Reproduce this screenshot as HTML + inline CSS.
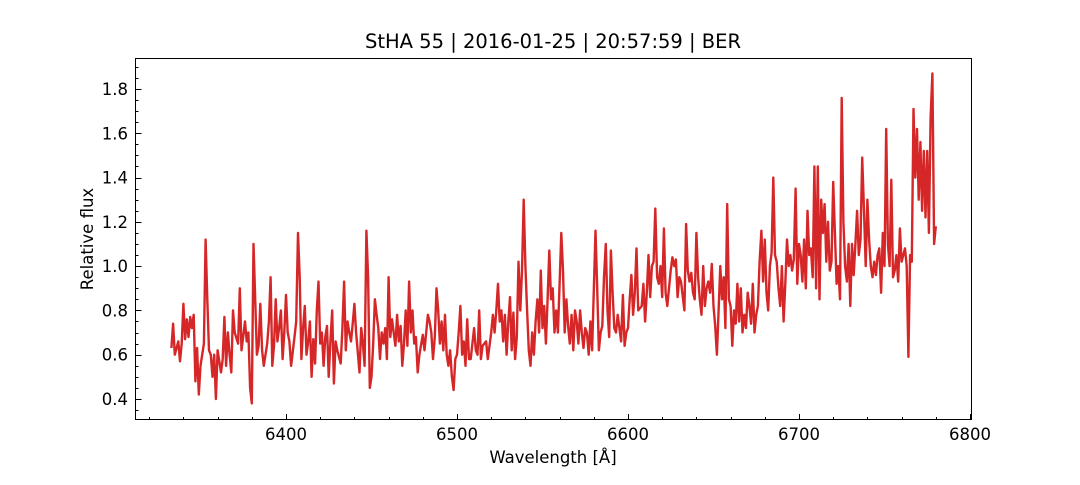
<!DOCTYPE html>
<html><head><meta charset="utf-8"><style>
body{margin:0;background:#fff;}
svg text{font-family:"DejaVu Sans","Liberation Sans",sans-serif;fill:#000;}
</style></head><body>
<svg id="chart" width="1080" height="480" xmlns="http://www.w3.org/2000/svg">
<text x="553" y="48" text-anchor="middle" font-size="19.5">StHA 55 | 2016-01-25 | 20:57:59 | BER</text>
<text x="553" y="463" text-anchor="middle" font-size="16.5">Wavelength [Å]</text>
<text transform="translate(93,239) rotate(-90)" text-anchor="middle" font-size="16.5">Relative flux</text>
<g id="ticks"></g>
<clipPath id="clip"><rect x="135" y="58" width="836" height="362"/></clipPath>
<path id="line" fill="none" stroke="#d62728" stroke-width="2.4" stroke-linejoin="round" clip-path="url(#clip)"/>
<rect x="135.5" y="58.5" width="836" height="361" fill="none" stroke="#000" stroke-width="1"/>
</svg>
<script>
const xTicks=[6400,6500,6600,6700,6800];
const yTicks=[0.4,0.6,0.8,1.0,1.2,1.4,1.6,1.8];
const wl=[6333,6334,6335,6337,6338,6339,6340,6341,6342,6343,6344,6345,6346,6347,6348,6349,6350,6352,6353,6354,6355,6356,6357,6358,6359,6360,6362,6363,6364,6365,6366,6367,6368,6369,6370,6372,6373,6374,6376,6377,6378,6379,6380,6381,6382,6383,6384,6385,6386,6387,6389,6390,6391,6392,6393,6394,6395,6396,6397,6398,6399,6400,6401,6402,6403,6405,6406,6407,6408,6409,6410,6411,6412,6413,6414,6415,6416,6417,6418,6419,6420,6421,6422,6423,6424,6425,6426,6427,6428,6429,6430,6432,6433,6434,6435,6436,6437,6438,6439,6440,6441,6443,6444,6445,6446,6447,6448,6449,6450,6451,6452,6453,6454,6455,6456,6457,6458,6459,6460,6461,6462,6464,6465,6466,6467,6468,6469,6470,6471,6472,6473,6474,6475,6476,6477,6478,6480,6481,6483,6484,6485,6486,6487,6488,6489,6490,6491,6492,6493,6494,6495,6496,6497,6498,6499,6500,6501,6502,6503,6504,6505,6506,6507,6508,6510,6511,6512,6513,6514,6515,6517,6518,6520,6521,6522,6523,6524,6525,6526,6527,6528,6529,6530,6531,6532,6533,6534,6535,6536,6537,6538,6539,6540,6541,6542,6543,6544,6545,6546,6547,6548,6549,6550,6551,6552,6553,6554,6555,6556,6557,6558,6559,6560,6561,6562,6563,6564,6565,6566,6567,6568,6569,6570,6571,6572,6573,6574,6575,6576,6577,6578,6579,6581,6582,6583,6584,6585,6586,6587,6588,6589,6590,6591,6592,6593,6594,6596,6597,6598,6599,6600,6601,6602,6603,6604,6605,6606,6608,6609,6610,6611,6612,6613,6614,6615,6616,6617,6618,6619,6620,6621,6622,6623,6624,6625,6626,6627,6628,6629,6630,6631,6633,6634,6635,6636,6637,6638,6639,6640,6641,6642,6643,6644,6645,6646,6647,6648,6649,6650,6651,6652,6653,6654,6655,6656,6657,6658,6659,6660,6661,6662,6663,6664,6665,6666,6667,6668,6669,6670,6671,6672,6673,6674,6675,6676,6677,6678,6679,6680,6681,6682,6683,6684,6685,6686,6687,6688,6689,6690,6691,6692,6693,6694,6695,6696,6697,6698,6699,6700,6701,6702,6703,6704,6705,6706,6707,6708,6709,6710,6711,6712,6713,6714,6715,6716,6717,6718,6719,6720,6721,6722,6723,6724,6725,6726,6727,6728,6729,6730,6731,6732,6733,6734,6735,6736,6737,6738,6739,6740,6741,6742,6743,6744,6745,6746,6747,6748,6749,6750,6751,6752,6753,6754,6755,6756,6757,6758,6759,6760,6761,6762,6763,6764,6765,6766,6767,6768,6769,6770,6771,6772,6773,6774,6775,6776,6777,6778,6779,6780];
const flux=[0.63,0.74,0.60,0.66,0.57,0.65,0.83,0.67,0.76,0.68,0.77,0.72,0.78,0.48,0.63,0.42,0.55,0.65,1.12,0.85,0.62,0.60,0.50,0.60,0.40,0.62,0.52,0.58,0.77,0.55,0.70,0.60,0.52,0.80,0.70,0.65,0.90,0.62,0.75,0.66,0.70,0.45,0.38,1.10,0.85,0.60,0.64,0.83,0.62,0.55,0.65,0.75,0.95,0.55,0.64,0.85,0.66,0.72,0.80,0.58,0.70,0.87,0.70,0.66,0.55,0.68,0.75,1.15,0.95,0.58,0.72,0.82,0.60,0.66,0.75,0.50,0.67,0.56,0.80,0.93,0.65,0.70,0.55,0.68,0.73,0.50,0.66,0.80,0.47,0.66,0.62,0.56,0.72,0.93,0.62,0.75,0.70,0.66,0.74,0.83,0.70,0.52,0.72,0.65,0.55,1.16,0.95,0.45,0.50,0.65,0.85,0.78,0.72,0.58,0.70,0.65,0.72,0.58,0.95,0.68,0.76,0.64,0.78,0.66,0.73,0.55,0.65,0.80,0.64,0.93,0.70,0.80,0.65,0.68,0.52,0.60,0.69,0.62,0.78,0.75,0.70,0.58,0.68,0.90,0.80,0.65,0.75,0.62,0.78,0.60,0.55,0.62,0.50,0.44,0.58,0.60,0.70,0.82,0.60,0.66,0.55,0.76,0.58,0.58,0.72,0.62,0.60,0.80,0.58,0.64,0.66,0.58,0.70,0.78,0.70,0.80,0.92,0.75,0.80,0.66,0.78,0.60,0.75,0.86,0.62,0.79,0.58,0.68,1.02,0.80,0.98,1.30,1.00,0.80,0.62,0.55,0.70,0.60,0.75,0.85,0.70,0.98,0.72,0.82,0.65,0.85,1.07,0.85,0.90,0.70,0.80,0.70,0.92,1.15,0.98,0.70,0.85,0.73,0.65,0.78,0.62,0.80,0.75,0.65,0.80,0.70,0.63,0.72,0.70,0.60,0.75,0.62,1.16,0.90,0.62,0.70,0.73,0.95,1.10,0.80,0.68,1.07,0.88,0.72,0.70,0.78,0.66,0.87,0.64,0.70,0.72,0.85,0.96,0.78,0.88,1.08,0.80,0.82,0.92,0.75,0.88,1.05,0.86,1.00,1.02,1.26,0.95,0.92,1.00,0.86,1.17,0.88,0.82,0.90,0.98,1.04,1.00,1.03,0.86,0.95,0.93,0.80,1.19,0.98,0.93,0.97,0.88,0.85,1.15,0.95,0.85,0.78,1.00,0.82,0.90,0.93,0.88,1.01,0.82,0.73,0.60,0.80,1.00,0.85,0.95,0.72,1.28,0.85,0.82,0.64,0.80,0.74,0.92,0.75,0.90,0.70,0.78,0.72,0.88,0.82,0.74,0.92,0.70,0.78,0.82,1.02,1.16,0.93,1.12,0.88,0.80,1.00,1.06,1.40,1.05,1.02,0.90,0.82,1.00,0.75,0.92,1.12,1.00,1.05,0.98,1.03,1.35,0.92,1.10,1.05,0.93,1.12,0.90,1.25,1.05,1.08,0.95,1.45,0.90,1.45,0.85,1.30,1.15,1.28,1.02,1.20,0.98,1.02,1.38,1.15,0.92,1.00,0.85,1.76,1.20,1.00,0.93,1.10,0.82,1.10,0.96,1.10,1.25,1.05,1.12,1.49,1.25,1.00,1.30,1.12,1.00,0.95,1.02,0.96,1.05,1.08,0.88,1.15,1.00,1.62,1.10,1.00,1.39,0.95,0.98,1.05,0.93,1.17,1.02,1.05,1.08,1.00,0.59,1.05,1.02,1.71,1.40,1.62,1.30,1.56,1.25,1.52,1.22,1.52,1.15,1.67,1.87,1.10,1.18];
const X0=6311.7,X1=6800.6,PL=135,PR=971;
const Y0=0.305,Y1=1.94,PB=420,PT=58;
function sx(v){return PL+(v-X0)/(X1-X0)*(PR-PL);}
function sy(v){return PB-(v-Y0)/(Y1-Y0)*(PB-PT);}
const NS='http://www.w3.org/2000/svg';
const g=document.getElementById('ticks');
function ln(x1,y1,x2,y2){const l=document.createElementNS(NS,'line');l.setAttribute('x1',x1);l.setAttribute('y1',y1);l.setAttribute('x2',x2);l.setAttribute('y2',y2);l.setAttribute('stroke','#000');l.setAttribute('stroke-width','1');g.appendChild(l);return l;}
for(let v=6320;v<=6800;v+=20){const x=Math.round(sx(v))+0.5;const major=v%100===0;const l=ln(x,PB,x,PB-(major?6:3));

}
for(let i=7;i<=38;i++){const v=i*0.05;const y=Math.round(sy(v))+0.5;const major=i%4===0;const l=ln(PL+0.5,y,PL+0.5+(major?6:3),y);

}
xTicks.forEach(v=>{const t=document.createElementNS(NS,'text');t.setAttribute('x',sx(v));t.setAttribute('y',440);t.setAttribute('text-anchor','middle');t.setAttribute('font-size','16.5');t.textContent=v;


g.appendChild(t);});
yTicks.forEach(v=>{const t=document.createElementNS(NS,'text');t.setAttribute('x',128);t.setAttribute('y',sy(v)+6);t.setAttribute('text-anchor','end');t.setAttribute('font-size','16.5');t.textContent=v.toFixed(1);


g.appendChild(t);});
let d='';wl.forEach((w,i)=>{d+=(i?'L':'M')+sx(w).toFixed(1)+','+sy(flux[i]).toFixed(1);});
document.getElementById('line').setAttribute('d',d);
</script>
</body></html>
